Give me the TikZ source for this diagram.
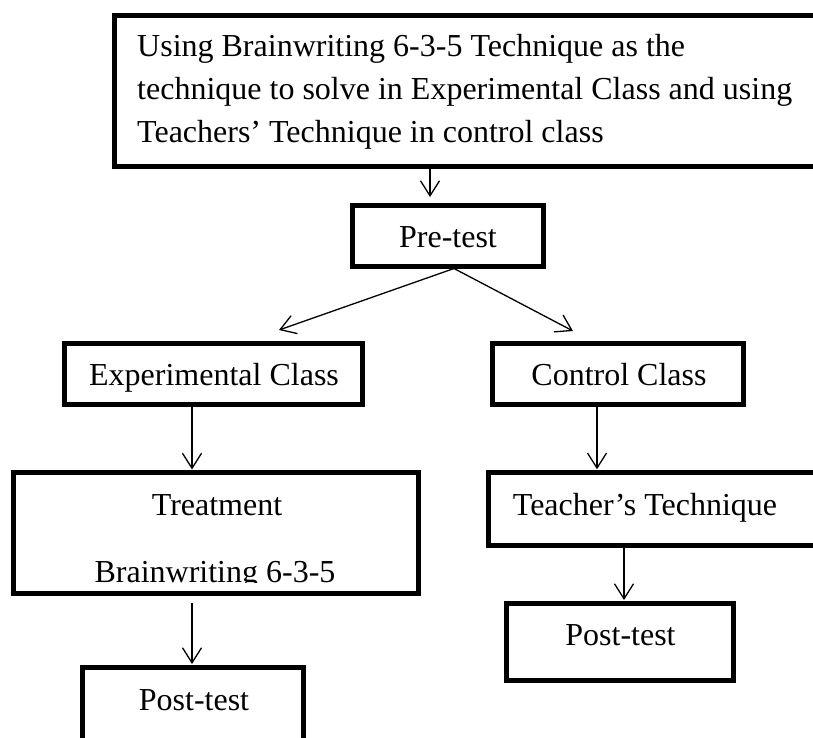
\documentclass[tikz,border=0pt]{standalone}
\usepackage{fontspec}
\setmainfont{Liberation Serif}
\usetikzlibrary{arrows.meta,calc}
\begin{document}
\begin{tikzpicture}[x=1pt,y=-1pt,
  box/.style={draw, line width=5pt, rectangle, inner sep=0pt},
  lbl/.style={font=\fontsize{32pt}{43pt}\selectfont, inner sep=0pt, anchor=base},
  arr/.style={line width=1.3pt, -{Straight Barb[length=15pt,width=19pt]}}]
\useasboundingbox (0,0) rectangle (813,737);
\clip (0,0) rectangle (813,737);
\fill[white] (0,0) rectangle (813,737);
% boxes
\node[box, minimum width=785pt, minimum height=150.5pt] (top) at (507,90.75) {};
\node[box, minimum width=190.5pt, minimum height=61pt] (pre) at (448,235.5) {};
\node[box, minimum width=298pt, minimum height=61.5pt] (exp) at (213.5,374) {};
\node[box, minimum width=250.5pt, minimum height=61.5pt] (ctrl) at (618,374) {};
\node[box, minimum width=404.5pt, minimum height=121pt] (treat) at (216,533) {};
\node[box, minimum width=341.5pt, minimum height=73.5pt] (teach) at (659,509) {};
\node[box, minimum width=227pt, minimum height=76.5pt] (postR) at (620,641.75) {};
\node[box, minimum width=221.5pt, minimum height=92.5pt] (postL) at (193,713.75) {};
% texts
\node[lbl, anchor=base west] (t1) at (137,56) {Using Brainwriting 6-3-5 Technique as the};
\node[lbl, anchor=base west] (t2) at (137,99.5) {technique to solve in Experimental Class and using};
\node[lbl, anchor=base west] (t3) at (137,142) {Teachers’ Technique in control class};
\node[lbl] (pretxt) at (448,247) {Pre-test};
\node[lbl] (exptxt) at (214,385) {Experimental Class};
\node[lbl] (ctrltxt) at (619,385) {Control Class};
\node[lbl] (treattxt) at (217,515) {Treatment};
\begin{scope}
\clip (20,540) rectangle (410,582.5);
\node[lbl] (bwtxt) at (215,582) {Brainwriting 6-3-5};
\end{scope}
\node[lbl] (teachtxt) at (645,515) {Teacher’s Technique};
\node[lbl] (postRtxt) at (620.5,645) {Post-test};
\node[lbl] (postLtxt) at (194,710) {Post-test};
% connector positions
\coordinate (ca) at (430,0);
\coordinate (cl) at (192,0);
\coordinate (cr) at (597,0);
\coordinate (cr2) at (624,0);
\coordinate (tipL) at (279,330);
\coordinate (tipR) at (573,331);
% connectors
\draw[arr, shorten >=5.5pt] (top.south -| ca) -- (pre.north -| ca);
\draw[arr] ([xshift=6pt]pre.south) -- (tipL);
\draw[arr] ([xshift=6pt]pre.south) -- (tipR);
\draw[arr, shorten >=0.5pt] (exp.south -| cl) -- (treat.north -| cl);
\draw[arr, shorten >=0.5pt] (ctrl.south -| cr) -- (teach.north -| cr);
\draw[arr, shorten <=7pt, shorten >=1pt] (treat.south -| cl) -- (postL.north -| cl);
\draw[arr, shorten >=1pt] (teach.south -| cr2) -- (postR.north -| cr2);
\end{tikzpicture}
\end{document}
